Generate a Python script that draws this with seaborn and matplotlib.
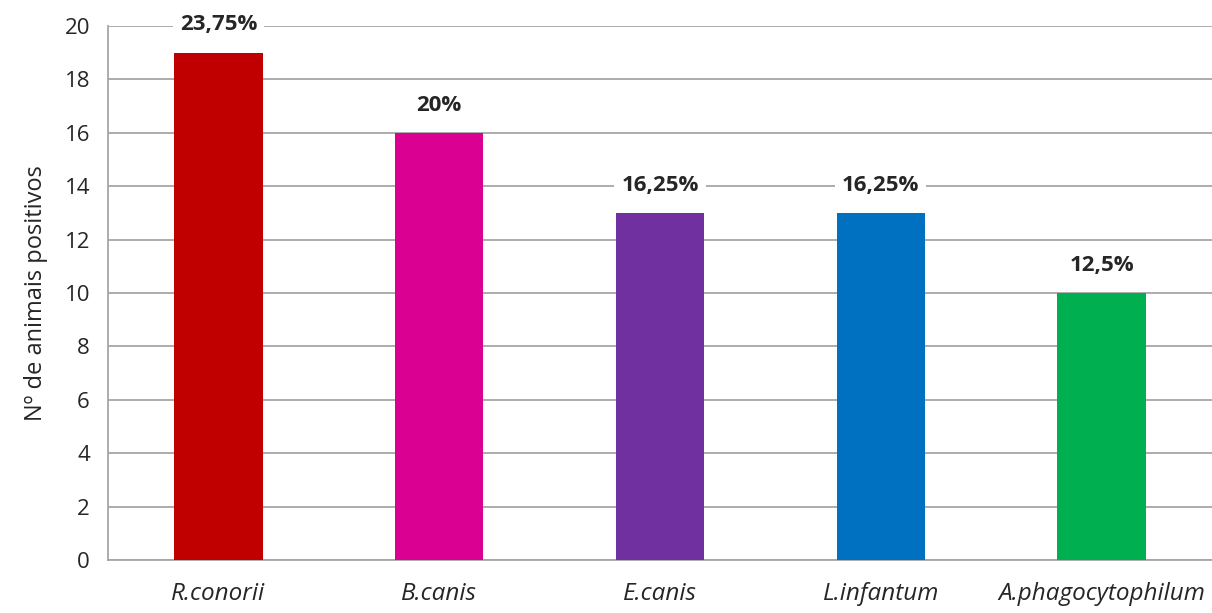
import numpy as np
import matplotlib
matplotlib.use("Agg")
import matplotlib.pyplot as plt
import seaborn as sns

# dados
especies = ["R.conorii", "B.canis", "E.canis", "L.infantum", "A.phagocytophilum"]
positivos = [19, 16, 13, 13, 10]
percentagens = ["23,75%", "20%", "16,25%", "16,25%", "12,5%"]
cores = ["#C00000", "#DA0091", "#7030A0", "#0070C0", "#00B050"]

sns.set_style("white")
plt.rcParams["font.family"] = ["Open Sans", "DejaVu Sans"]

fig = plt.figure(figsize=(12.12, 6.13), dpi=100)
ax = fig.add_axes([108 / 1212, 1 - 560 / 613, 1 - 108 / 1212, (560 - 26) / 613])

sns.barplot(x=especies, y=positivos, hue=especies, palette=cores,
            width=0.4, legend=False, ax=ax, zorder=3, saturation=1, linewidth=0)

ax.set_ylim(0, 20)
ax.set_xlim(-0.5, 4.5)
ax.set_yticks(np.arange(0, 21, 2))
ax.yaxis.grid(True, color="#A6A6A6", linewidth=1.3, zorder=0)
ax.set_axisbelow(True)

for s in ["top", "right"]:
    ax.spines[s].set_visible(False)
for s in ["left", "bottom"]:
    ax.spines[s].set_color("#A6A6A6")
    ax.spines[s].set_linewidth(1.3)

ax.tick_params(axis="y", length=8, color="#A6A6A6", width=1.3, labelsize=16, pad=5)
ax.tick_params(axis="x", which="major", length=0, labelsize=17.5, pad=16)
ax.set_xticks(np.arange(-0.5, 5, 1), minor=True)
ax.tick_params(axis="x", which="minor", length=8, color="#A6A6A6", width=1.3)
for lbl in ax.get_xticklabels():
    lbl.set_fontstyle("italic")

ax.set_ylabel("Nº de animais positivos", fontsize=17, labelpad=12)

for i, (v, p) in enumerate(zip(positivos, percentagens)):
    ax.annotate(p, (i, v), xytext=(0, 20), textcoords="offset points",
                ha="center", va="center", fontsize=16, fontweight="bold",
                bbox=dict(facecolor="white", edgecolor="none", pad=5), zorder=5)

fig.savefig("out.png", dpi=100)
